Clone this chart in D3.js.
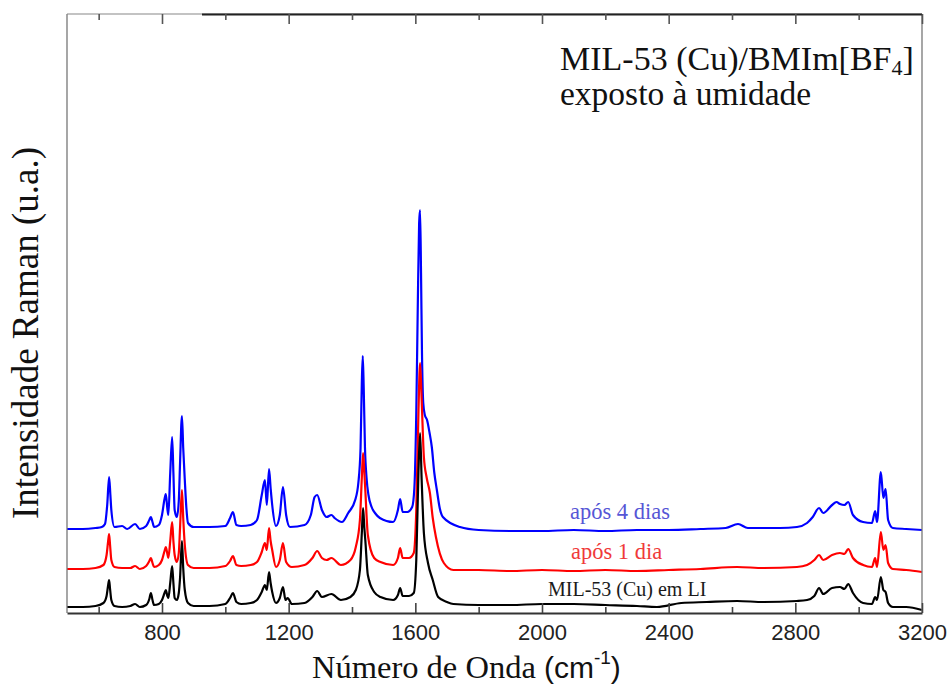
<!DOCTYPE html>
<html>
<head>
<meta charset="utf-8">
<script src="https://cdn.jsdelivr.net/npm/d3@7"></script>
<style>
  html, body { margin: 0; padding: 0; background: #fff; }
  svg { display: block; }
</style>
</head>
<body>
<svg id="chart" width="950" height="687"></svg>
<script>
// Raman spectra of MIL-53 (Cu) in BMIm[BF4], as [wavenumber (cm-1), intensity (a.u., stacked offset)]
const miLI = [
  [500,6],[550,6],[590,7],[615,10],[625,17],[630,28],[633,33],[636,24],[640,13],[650,7],[674,6],[700,7],[715,9],[730,6],
  [750,8],[760,14],[765,20],[770,13],[775,8],[790,9],[800,13],[808,20],[812,23],[817,17],[820,15],[826,30],[832,47],[836,30],
  [840,15],[847,13],[853,20],[857,35],[863,72],[867,45],[872,23],[882,10],[900,7],[950,7],[1000,9],[1015,15],[1024,20],
  [1035,11],[1050,9],[1080,10],[1100,13],[1115,21],[1125,28],[1131,23],[1138,41],[1143,30],[1148,21],[1160,10],[1172,15],
  [1182,26],[1190,13],[1197,15],[1210,9],[1250,10],[1275,16],[1290,22],[1305,16],[1335,19],[1365,13],[1395,16],[1412,23],
  [1425,43],[1431,80],[1435,105],[1439,85],[1442,73],[1450,38],[1470,21],[1490,16],[1530,13],[1545,18],[1552,25],[1560,17],
  [1580,17],[1595,20],[1603,53],[1610,143],[1615,180],[1620,133],[1627,80],[1640,50],[1655,33],[1672,16],[1700,11],[1720,9],
  [1800,8],[1900,8],[2000,9],[2100,9],[2200,8],[2300,7],[2363,6],[2440,10],[2520,11],[2616,12],[2700,11],[2805,12],
  [2837,13],[2860,17],[2875,25],[2888,19],[2916,25],[2941,26],[2955,24],[2967,29],[2982,20],[3014,10],[3042,9],[3052,16],
  [3058,13],[3070,36],[3078,23],[3085,21],[3093,10],[3108,6],[3150,6],[3200,3]
];

const apos1dia = [
  [500,44],[550,44],[590,45],[615,48],[625,58],[630,72],[633,79],[636,68],[640,53],[650,46],[674,45],[700,45],[715,47],[730,44],
  [750,47],[760,52],[765,55],[770,50],[775,46],[790,48],[800,53],[808,62],[812,66],[817,59],[820,55],[826,72],[832,91],[836,72],
  [840,58],[847,51],[853,60],[857,85],[863,123],[867,95],[872,68],[882,48],[900,45],[950,45],[1000,47],[1015,52],[1024,57],
  [1035,48],[1050,47],[1080,48],[1100,51],[1115,61],[1125,70],[1131,63],[1138,85],[1143,72],[1148,63],[1160,46],[1172,53],
  [1182,70],[1192,51],[1210,46],[1250,48],[1275,55],[1290,62],[1305,55],[1320,53],[1335,55],[1365,48],[1395,53],[1412,66],
  [1425,93],[1431,135],[1435,160],[1439,140],[1442,123],[1450,78],[1470,55],[1490,51],[1530,48],[1545,55],[1552,65],[1560,55],
  [1580,55],[1595,60],[1603,103],[1610,203],[1615,250],[1620,213],[1627,156],[1636,135],[1646,120],[1655,95],[1665,76],
  [1690,50],[1720,43],[1800,43],[1900,42],[2000,43],[2100,42],[2200,43],[2300,42],[2400,43],[2500,44],[2616,46],[2700,45],
  [2805,46],[2837,48],[2860,53],[2875,58],[2888,53],[2916,58],[2941,60],[2955,59],[2967,64],[2982,55],[3014,48],[3042,46],
  [3052,55],[3058,46],[3070,81],[3078,63],[3085,68],[3093,50],[3108,44],[3150,43],[3200,41]
];

const apos4dias = [
  [500,84],[550,84],[590,85],[610,86],[620,89],[627,108],[633,136],[637,118],[640,103],[650,86],[674,87],[690,84],[715,89],
  [730,84],[750,87],[760,93],[765,96],[770,91],[775,86],[790,88],[800,98],[808,114],[812,119],[817,104],[820,98],[826,140],
  [832,176],[836,140],[840,103],[847,96],[853,112],[857,150],[863,197],[867,165],[872,133],[877,105],[882,90],[900,86],
  [950,86],[1000,87],[1015,95],[1024,101],[1035,88],[1050,87],[1080,88],[1100,93],[1115,118],[1125,133],[1131,108],
  [1138,144],[1143,125],[1148,108],[1160,87],[1172,98],[1182,126],[1192,98],[1204,86],[1250,88],[1270,98],[1282,116],
  [1290,118],[1305,103],[1320,96],[1335,98],[1345,95],[1368,91],[1388,100],[1410,113],[1420,130],[1427,165],[1431,230],
  [1434,257],[1437,225],[1441,165],[1446,135],[1452,118],[1462,106],[1475,99],[1488,95],[1530,91],[1545,103],[1552,114],
  [1560,101],[1575,101],[1590,106],[1597,125],[1603,200],[1608,313],[1612,390],[1615,403],[1618,340],[1621,260],[1625,210],
  [1630,198],[1637,193],[1645,180],[1652,166],[1660,140],[1668,123],[1677,105],[1687,96],[1741,86],[1800,83],[1900,82],
  [2000,82],[2100,83],[2200,82],[2300,83],[2400,83],[2500,84],[2580,85],[2619,89],[2650,85],[2711,85],[2752,85],[2805,86],
  [2837,90],[2855,96],[2875,105],[2888,100],[2916,108],[2930,111],[2941,109],[2955,108],[2967,111],[2982,98],[3014,91],
  [3042,90],[3052,102],[3058,91],[3070,141],[3078,115],[3085,124],[3093,93],[3108,85],[3150,84],[3200,83]
];

const majorTicks = [800, 1200, 1600, 2000, 2400, 2800, 3200];
const minorTicks = [600, 1000, 1400, 1800, 2200, 2600, 3000];

const series = [
  { name: "após 4 dias", data: apos4dias, color: "#0000ff", label: "#5656d6" },
  { name: "após 1 dia", data: apos1dia, color: "#ff0000", label: "#f03a3a" },
  { name: "MIL-53 (Cu) em LI", data: miLI, color: "#000000", label: "#1a1a1a" }
];

const svg = d3.select("#chart");
const plotL = 67, plotR = 922, plotT = 14, plotB = 613;

const x = d3.scaleLinear().domain([500, 3200]).range([plotL, plotR]);
const y = d3.scaleLinear().domain([0, 600]).range([plotB, plotT - 1]);

// spectra (blue underneath, black on top)
const line = d3.line().curve(d3.curveMonotoneX).x(d => x(d[0])).y(d => y(d[1]));
svg.append("g")
  .selectAll("path")
  .data(series)
  .join("path")
  .attr("d", d => line(d.data))
  .attr("fill", "none")
  .attr("stroke", d => d.color)
  .attr("stroke-width", 2.2)
  .attr("stroke-linejoin", "round");

// frame
const frame = svg.append("g").attr("fill", "none");
frame.append("line").attr("x1", plotL).attr("x2", plotL).attr("y1", plotT).attr("y2", plotB)
  .attr("stroke", "#777").attr("stroke-width", 1.3);
frame.append("line").attr("x1", plotR).attr("x2", plotR).attr("y1", plotT).attr("y2", plotB)
  .attr("stroke", "#777").attr("stroke-width", 1.3);
frame.append("line").attr("x1", plotL).attr("x2", plotR).attr("y1", plotT).attr("y2", plotT)
  .attr("stroke", "#888").attr("stroke-width", 1.2);
frame.append("line").attr("x1", 202).attr("x2", plotR).attr("y1", plotT + 0.5).attr("y2", plotT + 0.5)
  .attr("stroke", "#222").attr("stroke-width", 2.2);

// bottom axis: inward ticks with labels
const xAxis = svg.append("g")
  .attr("transform", `translate(0,${plotB})`)
  .call(d3.axisBottom(x).tickValues(majorTicks).tickSize(-10).tickPadding(11).tickSizeOuter(0)
    .tickFormat(d3.format("d")));
xAxis.select(".domain").attr("stroke", "#333").attr("stroke-width", 2);
xAxis.selectAll(".tick line").attr("stroke", "#444").attr("stroke-width", 1.6);
xAxis.selectAll(".tick text")
  .attr("fill", "#222")
  .style("font-family", "'Liberation Sans', Arial, sans-serif")
  .style("font-size", "22px");

const xMinor = svg.append("g")
  .attr("transform", `translate(0,${plotB})`)
  .call(d3.axisBottom(x).tickValues(minorTicks).tickSize(-6).tickFormat("").tickSizeOuter(0));
xMinor.select(".domain").remove();
xMinor.selectAll(".tick line").attr("stroke", "#444").attr("stroke-width", 1.6);

// top axis: inward ticks, no labels
const xTop = svg.append("g")
  .attr("transform", `translate(0,${plotT})`)
  .call(d3.axisTop(x).tickValues(majorTicks).tickSize(-10).tickFormat("").tickSizeOuter(0));
xTop.select(".domain").remove();
xTop.selectAll(".tick line").attr("stroke", "#555").attr("stroke-width", 1.6);

const xTopMinor = svg.append("g")
  .attr("transform", `translate(0,${plotT})`)
  .call(d3.axisTop(x).tickValues(minorTicks).tickSize(-6).tickFormat("").tickSizeOuter(0));
xTopMinor.select(".domain").remove();
xTopMinor.selectAll(".tick line").attr("stroke", "#555").attr("stroke-width", 1.6);

const serif = "'Liberation Serif', 'Times New Roman', serif";
const sans = "'Liberation Sans', Arial, sans-serif";

// x axis title
const xt = svg.append("text")
  .attr("x", 312).attr("y", 678)
  .attr("fill", "#111");
xt.append("tspan").style("font-family", serif).style("font-size", "32.5px").text("Número de Onda ");
xt.append("tspan").style("font-family", sans).style("font-size", "30px").text("(cm");
xt.append("tspan").style("font-family", sans).style("font-size", "19px").attr("dy", -14).text("-1");
xt.append("tspan").style("font-family", sans).style("font-size", "30px").attr("dy", 14).text(")");

// y axis title
svg.append("text")
  .attr("transform", "translate(38,333) rotate(-90)")
  .attr("text-anchor", "middle")
  .attr("fill", "#111")
  .style("font-family", serif)
  .style("font-size", "37px")
  .text("Intensidade Raman (u.a.)");

// sample description
const t1 = svg.append("text").attr("x", 560).attr("y", 70).attr("fill", "#111")
  .style("font-family", serif).style("font-size", "34px");
t1.append("tspan").text("MIL-53 (Cu)/BMIm[BF");
t1.append("tspan").style("font-size", "22px").attr("dy", 5).text("4");
t1.append("tspan").attr("dy", -5).text("]");
svg.append("text").attr("x", 560).attr("y", 105).attr("fill", "#111")
  .style("font-family", serif).style("font-size", "33.5px")
  .text("exposto à umidade");

// series labels
const labelPos = [
  { x: 570, y: 519, size: 22.5 },
  { x: 571, y: 559, size: 22.5 },
  { x: 548, y: 596, size: 20 }
];
svg.append("g")
  .selectAll("text")
  .data(series)
  .join("text")
  .attr("x", (d, i) => labelPos[i].x)
  .attr("y", (d, i) => labelPos[i].y)
  .attr("fill", d => d.label)
  .style("font-family", serif)
  .style("font-size", (d, i) => labelPos[i].size + "px")
  .text(d => d.name);
</script>
</body>
</html>
